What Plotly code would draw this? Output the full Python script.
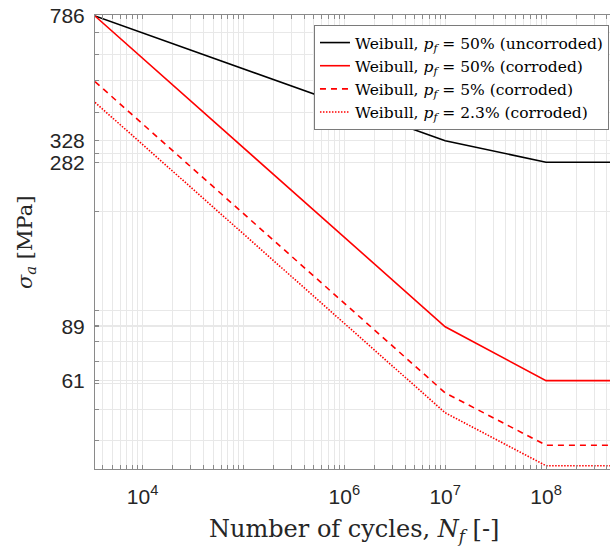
import plotly.graph_objects as go
import numpy as np

# ---- data ----
cycles = [3373, 1e7, 1e8, 5e8]
s_uncorr_p50 = [786, 328, 282, 282]
s_corr_p50 = [786, 89, 61, 61]
s_corr_p5 = [496, 56, 38.8, 38.8]
s_corr_p23 = [429, 48.7, 33.6, 33.6]

names = [
    "Weibull, <i>p</i><sub><i>f</i></sub> = 50% (uncorroded)",
    "Weibull, <i>p</i><sub><i>f</i></sub> = 50% (corroded)",
    "Weibull, <i>p</i><sub><i>f</i></sub> = 5% (corroded)",
    "Weibull, <i>p</i><sub><i>f</i></sub> = 2.3% (corroded)",
]

y_tick_vals = [61, 89, 282, 328, 786]
x_tick_vals = [1e4, 1e6, 1e7, 1e8]
x_tick_text = ["10<sup>4</sup>", "10<sup>6</sup>", "10<sup>7</sup>", "10<sup>8</sup>"]

x_range = [np.log10(3373), 8.634]
y_range = [1.5164, 2.8984]

# grid values (all 1..9 x decade)
x_grid = [k * 10.0 ** d for d in range(3, 9) for k in range(1, 10)]
x_grid = [v for v in x_grid if 10 ** x_range[0] <= v <= 10 ** x_range[1]]
x_all = sorted(set(x_grid + x_tick_vals))
x_text = [x_tick_text[x_tick_vals.index(v)] if v in x_tick_vals else "" for v in x_all]

y_grid = [k * 10.0 ** d for d in range(1, 3) for k in range(1, 10)]
y_grid = [v for v in y_grid if 10 ** y_range[0] <= v <= 10 ** y_range[1]]
y_all = sorted(set(y_grid + y_tick_vals))
y_text = [str(v) if v in y_tick_vals else "" for v in y_all]

fig = go.Figure()
series = [
    (s_uncorr_p50, "#000000", "solid"),
    (s_corr_p50, "#ff0000", "solid"),
    (s_corr_p5, "#ff0000", "6px,5px"),
    (s_corr_p23, "#ff0000", "1.5px,1.5px"),
]
for (vals, col, dash), nm in zip(series, names):
    fig.add_trace(go.Scatter(x=cycles, y=vals, mode="lines", name=nm,
                             line=dict(color=col, width=1.6, dash=dash)))

axis_col = "#8a8a8a"
grid_col = "#e8e8e8"
sans = "Liberation Sans, Arial, sans-serif"
serif = "DejaVu Serif, Liberation Serif, serif"

fig.update_xaxes(type="log", range=x_range, tickvals=x_all, ticktext=x_text,
                 ticks="inside", ticklen=4, tickcolor=axis_col, tickwidth=1,
                 showline=True, linecolor=axis_col, linewidth=1, mirror="ticks",
                 showgrid=True, gridcolor=grid_col, gridwidth=1, zeroline=False,
                 tickfont=dict(family=sans, size=21, color="#262626"),
                 ticklabelstandoff=9)
fig.update_yaxes(type="log", range=y_range, tickvals=y_all, ticktext=y_text,
                 ticks="inside", ticklen=4, tickcolor=axis_col, tickwidth=1,
                 showline=True, linecolor=axis_col, linewidth=1, mirror=False,
                 showgrid=True, gridcolor=grid_col, gridwidth=1, zeroline=False,
                 tickfont=dict(family=sans, size=21, color="#262626"),
                 ticklabelstandoff=5)

fig.update_layout(
    width=610, height=550,
    margin=dict(l=95, r=0, t=15, b=81),
    plot_bgcolor="white", paper_bgcolor="white",
    showlegend=True,
    legend=dict(x=0.998, y=0.978, xanchor="right", yanchor="top",
                bgcolor="white", bordercolor="#7a7a7a", borderwidth=1,
                font=dict(family=serif, size=15.5, color="#000000"),
                tracegroupgap=0),
    annotations=[
        dict(text="Number of cycles, <i>N</i><sub><i>f</i></sub> [-]",
             xref="paper", yref="paper", x=0.503, y=-0.136,
             xanchor="center", yanchor="middle", showarrow=False,
             font=dict(family=serif, size=24, color="#262626")),
        dict(text="<i>σ</i><sub><i>a</i></sub> [MPa]", textangle=-90,
             xref="paper", yref="paper", x=-0.134, y=0.5,
             xanchor="center", yanchor="middle", showarrow=False,
             font=dict(family=serif, size=21, color="#262626")),
    ],
)

fig.write_html("out.html")
